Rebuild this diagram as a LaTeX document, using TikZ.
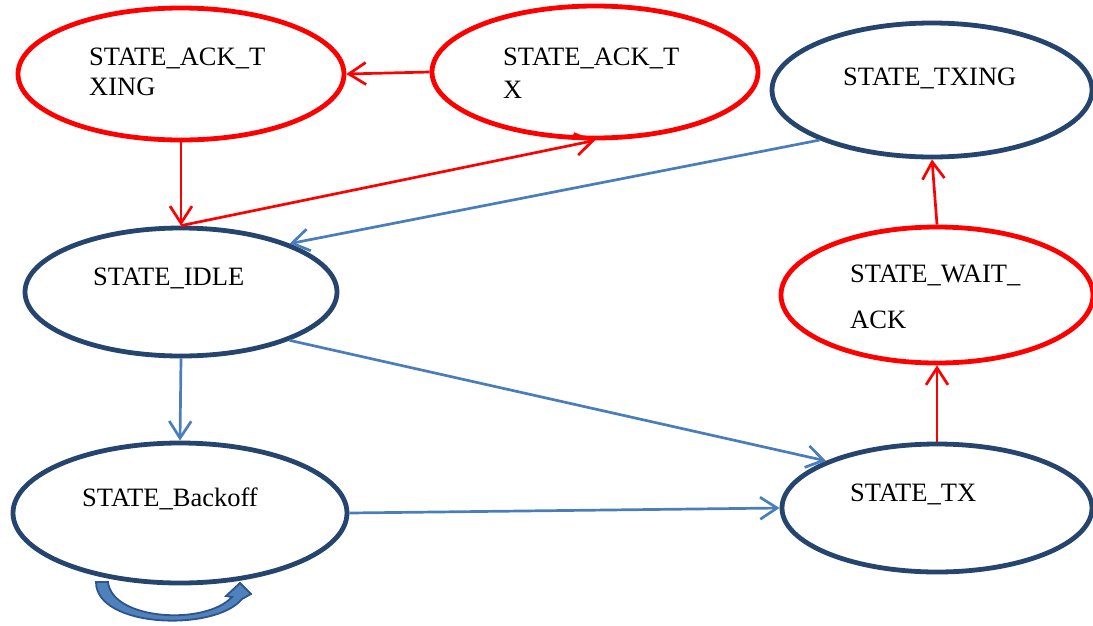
\documentclass[tikz,border=0pt]{standalone}
\usepackage{fontspec}
\setmainfont{Liberation Serif}
\usetikzlibrary{shapes.geometric,arrows.meta}
\definecolor{redline}{HTML}{FF0000}
\definecolor{darkline}{HTML}{26456E}
\definecolor{blueline}{HTML}{4A7EBB}
\definecolor{loopfill}{HTML}{4F81BD}
\definecolor{loopdraw}{HTML}{2E5489}
\tikzset{
  statebox/.style={ellipse, draw, line width=4.8pt, inner sep=0pt, fill=white},
  redstate/.style={statebox, draw=redline},
  darkstate/.style={statebox, draw=darkline},
  lbl/.style={anchor=base west, inner sep=0pt, font=\fontsize{26.5}{30}\selectfont},
  redarrow/.style={draw=redline, line width=2.7pt, -{Straight Barb[length=17pt,width=22pt]}},
  bluearrow/.style={draw=blueline, line width=2.7pt, -{Straight Barb[length=17pt,width=22pt]}},
}
\begin{document}
\begin{tikzpicture}[x=1pt,y=-1pt]
\useasboundingbox (0,0) rectangle (1093,625);
% states
\node[redstate, minimum width=326pt, minimum height=132pt] (acktxing) at (181,74) {};
\node[redstate, minimum width=326pt, minimum height=132pt] (acktx) at (595,72) {};
\node[darkstate, minimum width=320pt, minimum height=134pt] (txing) at (932,90) {};
\node[darkstate, minimum width=312pt, minimum height=128pt] (idle) at (181,292) {};
\node[redstate, minimum width=312pt, minimum height=136pt] (wait) at (937,295) {};
\node[darkstate, minimum width=334pt, minimum height=140pt] (backoff) at (180,513) {};
\node[darkstate, minimum width=310pt, minimum height=128pt] (tx) at (937,508) {};
% labels
\node[lbl] (t1a) at (89,65) {STATE\_ACK\_T};
\node[lbl] (t1b) at (89,95) {XING};
\node[lbl] (t2a) at (503,65) {STATE\_ACK\_T};
\node[lbl] (t2b) at (503,98) {X};
\node[lbl] (t3) at (843,85) {STATE\_TXING};
\node[lbl] (t4) at (93,285) {STATE\_IDLE};
\node[lbl] (t5a) at (850,282) {STATE\_WAIT\_};
\node[lbl] (t5b) at (850,328) {ACK};
\node[lbl] (t6) at (82,506) {STATE\_Backoff};
\node[lbl] (t7) at (850,501) {STATE\_TX};
% connectors
\draw[redarrow] (acktx.west) -- (acktxing.east);
\draw[redarrow] (acktxing.south) -- (idle.north);
\draw[redarrow] (idle.north) -- (acktx.south);
\draw[bluearrow] (txing.204) -- (idle.24);
\draw[bluearrow] (idle.south) -- (backoff.north);
\draw[bluearrow] (idle.-24) -- (tx.157);
\draw[bluearrow] (backoff.east) -- (tx.west);
\draw[redarrow] (tx.north) -- (wait.south);
\draw[redarrow] (wait.north) -- (txing.south);
% self loop on STATE_Backoff
\draw[fill=loopfill, draw=loopdraw, line width=1.8pt, line join=miter]
  (96,582) -- (108,582)
  .. controls (112,620) and (205,626) .. (232,597)
  -- (226,596) -- (240,583) -- (251,594) -- (242,599)
  .. controls (215,632) and (96,628) .. (96,582) -- cycle;
\end{tikzpicture}
\end{document}
